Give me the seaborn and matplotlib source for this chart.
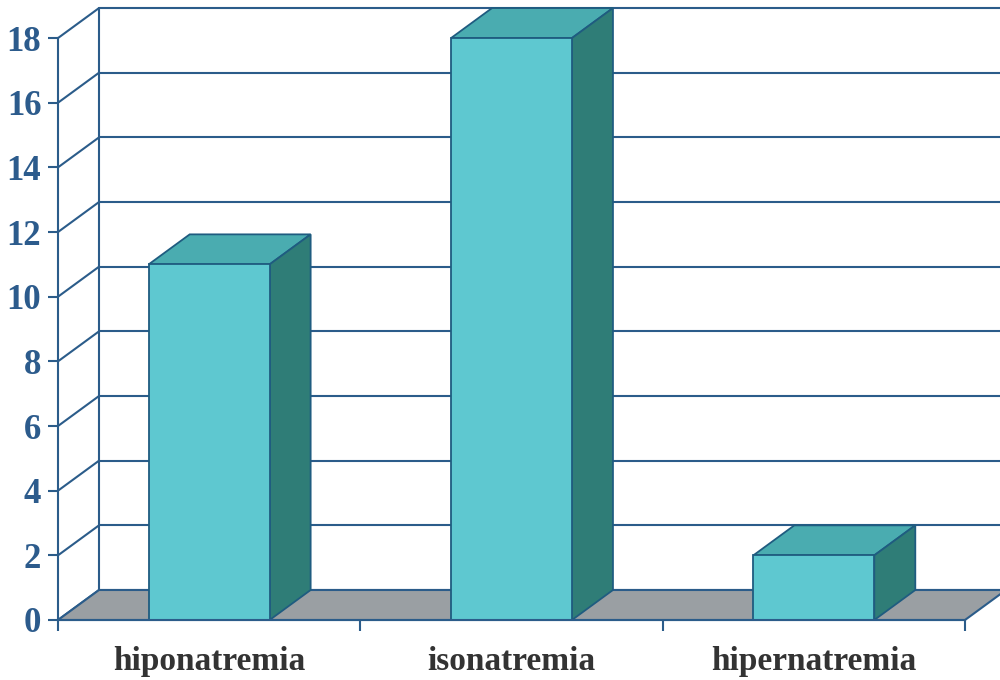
import numpy as np
import matplotlib
matplotlib.use("Agg")
import matplotlib.pyplot as plt
from matplotlib.patches import Polygon
import seaborn as sns

# ---- data ----
categories = ["hiponatremia", "isonatremia", "hipernatremia"]
values = [11, 18, 2]
yticks = [0, 2, 4, 6, 8, 10, 12, 14, 16, 18]

# ---- style ----
sns.set_style("white")
plt.rcParams['font.family'] = ['Liberation Serif', 'DejaVu Serif']

FRONT = "#5EC8D0"
TOP = "#4AACB0"
SIDE = "#2F7D77"
EDGE = "#1F5C80"
GRID = "#2B5C8A"
FLOOR = "#9A9FA3"
TICKC = "#2C5B8C"
XLAB = "#333333"

fig = plt.figure(figsize=(10, 6.8), dpi=100)
ax = fig.add_axes([0, 0, 1, 1])
ax.patch.set_alpha(0)

# pixel scales
px_x = 302.33   # px per category unit
px_y = 32.33    # px per value unit
x_front = -0.5
ax.set_xlim(x_front - 58 / px_x, x_front + (1000 - 58) / px_x)
ax.set_ylim(-(680 - 620) / px_y, 620 / px_y)

DX = 41 / px_x
DY = 30 / px_y
x_end = len(categories) - 0.5
x_far = ax.get_xlim()[1] + 0.1

# back wall grid lines + diagonals
for v in yticks:
    ax.plot([x_front, x_front + DX], [v, v + DY], color=GRID, lw=1.5, zorder=1,
            solid_capstyle="butt")
    ax.plot([x_front + DX, x_far], [v + DY, v + DY], color=GRID, lw=1.5, zorder=1)
ax.plot([x_front + DX, x_front + DX], [DY, yticks[-1] + DY], color=GRID, lw=1.5, zorder=1)

# floor
floor = Polygon([(x_front, 0), (x_end, 0), (x_end + DX, DY), (x_front + DX, DY)],
                closed=True, facecolor=FLOOR, edgecolor=GRID, lw=1.5, zorder=2)
ax.add_patch(floor)

# bars via seaborn
sns.barplot(x=categories, y=values, color=FRONT, width=0.4, edgecolor=EDGE,
            linewidth=1.3, saturation=1, ax=ax, zorder=4)
for p in ax.patches:
    if p is floor:
        continue
    x, w, h = p.get_x(), p.get_width(), p.get_height()
    top = Polygon([(x, h), (x + w, h), (x + w + DX, h + DY), (x + DX, h + DY)],
                  closed=True, facecolor=TOP, edgecolor=EDGE, lw=1.3, zorder=3)
    side = Polygon([(x + w, 0), (x + w + DX, DY), (x + w + DX, h + DY), (x + w, h)],
                   closed=True, facecolor=SIDE, edgecolor=EDGE, lw=1.3, zorder=3)
    ax.add_patch(top)
    ax.add_patch(side)

# axes / spines
ax.set_xlim(x_front - 58 / px_x, x_front + (1000 - 58) / px_x)
ax.set_ylim(-(680 - 620) / px_y, 620 / px_y)
for s in ["top", "right"]:
    ax.spines[s].set_visible(False)
ax.spines["left"].set_position(("data", x_front))
ax.spines["left"].set_bounds(0, yticks[-1])
ax.spines["bottom"].set_position(("data", 0))
ax.spines["bottom"].set_bounds(x_front, x_end)
for s in ["left", "bottom"]:
    ax.spines[s].set_color(GRID)
    ax.spines[s].set_linewidth(1.5)
    ax.spines[s].set_zorder(5)

ax.set_yticks(yticks)
ax.set_yticklabels([str(v) for v in yticks], fontsize=25, fontweight="bold", color=TICKC)
ax.tick_params(axis="y", direction="out", length=7, width=1.5, color=GRID, pad=5, left=True)

ax.set_xticks(range(len(categories)))
ax.set_xticklabels(categories, fontsize=24, fontweight="bold", color=XLAB)
ax.set_xticks(np.arange(-0.5, len(categories), 1.0), minor=True)
ax.tick_params(axis="x", which="major", length=0, pad=19, bottom=True)
ax.tick_params(axis="x", which="minor", direction="out", length=8, width=1.5, color=GRID, bottom=True)
ax.set_xlabel("")
ax.set_ylabel("")

fig.savefig("out.png", dpi=100)
